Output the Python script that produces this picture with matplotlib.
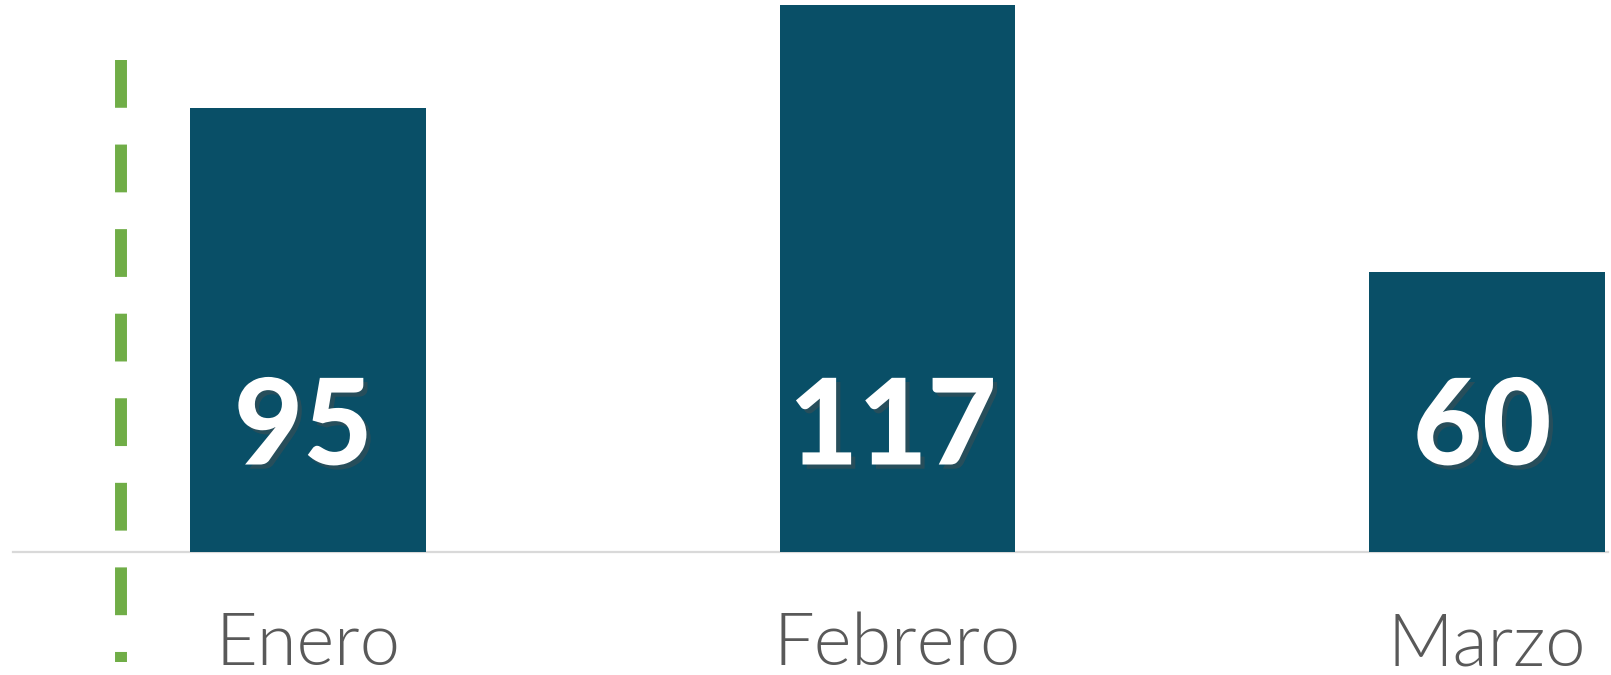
import numpy as np
import matplotlib.pyplot as plt
import matplotlib.patheffects as pe

months = ['Enero', 'Febrero', 'Marzo']
values = [95, 117, 60]

bar_color = '#094f67'
green = '#70ad47'

fig = plt.figure(figsize=(16.11, 6.75), dpi=100)
ax = fig.add_axes([0, 0, 1, 1])
ax.set_xlim(-0.5225, 2.2104)
ax.set_ylim(-26.33, 118.15)
ax.axis('off')

index = np.arange(len(months))
ax.bar(index, values, 0.4, color=bar_color, zorder=3)

# baseline
ax.plot([-0.5004, 2.205], [0, 0], color='#d9d9d9', lw=1.6, zorder=2)

# dashed green marker line
ax.plot([-0.318, -0.318], [105.3, -23.6], color=green, lw=8.6,
        linestyle=(0, (4, 3.08)), dash_capstyle='butt', zorder=2)

shadow = [pe.SimplePatchShadow(offset=(3, -3), alpha=0.45), pe.Normal()]
for i, v in zip(index, values):
    ax.text(i - 0.008, 26.0, str(v), ha='center', va='center', color='white',
            fontsize=86, fontweight=900, family=['Lato', 'DejaVu Sans'],
            path_effects=shadow, zorder=4)
    ax.text(i, -24.2, months[i], ha='center', va='baseline', color='#595959',
            fontsize=52, fontweight=300, family=['Lato', 'DejaVu Sans'],
            zorder=4)

fig.savefig('out.png', dpi=100)
